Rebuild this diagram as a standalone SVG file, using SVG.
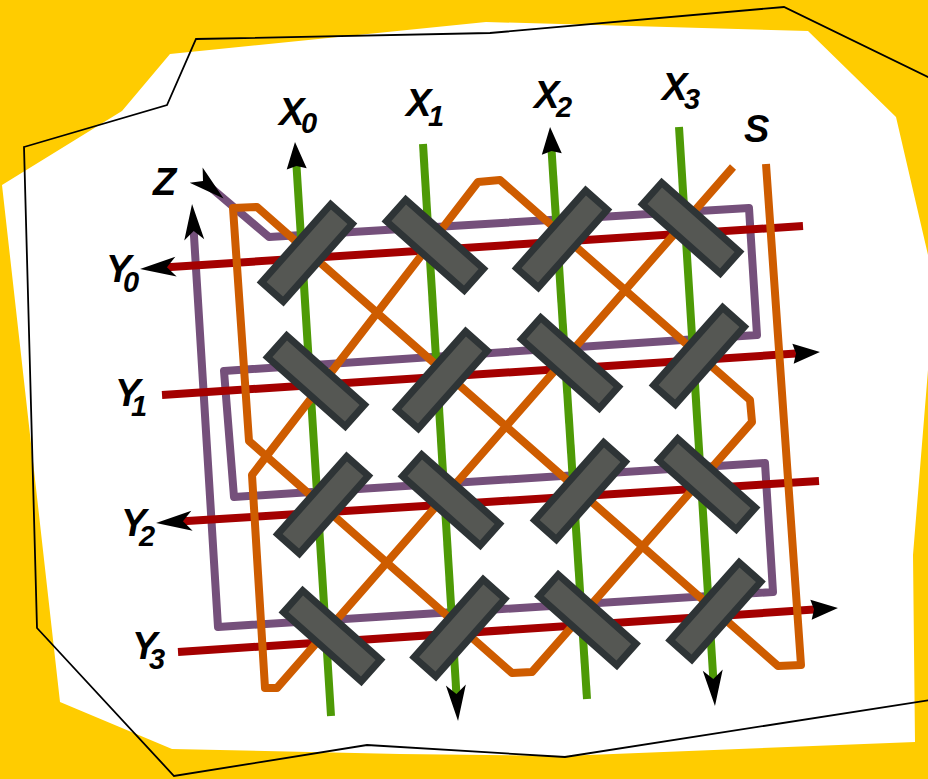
<svg xmlns="http://www.w3.org/2000/svg" width="928" height="779" viewBox="0 0 928 779">
<style>
.l{fill:none;stroke-width:8;stroke-linejoin:round}
.g{stroke:#4e9a06}.r{stroke:#a40000}.p{stroke:#75507b}.o{stroke:#ce5c00}
.b{fill:#555753;stroke:#2e3436;stroke-width:7;stroke-linejoin:miter}
text{font-family:"Liberation Sans",Arial,sans-serif;font-weight:bold;font-style:italic;fill:#000;font-size:38px}
.s{font-size:29px}
</style>
<defs>
<marker id="a" markerUnits="userSpaceOnUse" markerWidth="30" markerHeight="24" viewBox="0 -12 30 24" refX="3" refY="0" orient="auto" overflow="visible"><path d="M0,-10 L27,0 L0,10 L3,0 Z" fill="#000"/></marker>
<marker id="c" markerUnits="userSpaceOnUse" markerWidth="38" markerHeight="24" viewBox="0 -12 38 24" refX="9" refY="0" orient="auto" overflow="visible"><path d="M0,-10 L36,0 L0,10 L9,0 Z" fill="#000"/></marker>
<rect id="bx" x="-52" y="-14.5" width="104" height="29" class="b"/>
</defs>
<rect id="background" width="928" height="779" fill="#ffcc00"/>
<polygon id="sheet" fill="#fff" points="2,185 122,111 170,54 486,22 808,31 896,117 928,255 928,370 913,555 915,742 563,756 400,754 172,749 60,702"/>
<polygon id="outline" fill="none" stroke="#000" stroke-width="1.8" points="24,147 167,105 196,39 490,33 784,7 930,78 930,700 565,757 367,745 174,776 37,628"/>
<g id="connectors">
<path class="l p" marker-start="url(#c)" marker-end="url(#c)" d="M203,181 L269,237 L749,208 L757,335 L224,371 L234,497 L765,463 L773,592 L218,627 L193.7,231"/>
<path class="l r" marker-end="url(#c)" d="M803,226 L167,267.2"/>
<path class="l r" marker-end="url(#a)" d="M162,395 L796,353.6"/>
<path class="l r" marker-end="url(#c)" d="M819,481 L183,521.3"/>
<path class="l r" marker-end="url(#a)" d="M178,652 L814,609.6"/>
<path class="l g" marker-end="url(#a)" d="M331,716 L296.5,166"/>
<path class="l g" marker-end="url(#c)" d="M423,144 L456.4,694"/>
<path class="l g" marker-end="url(#a)" d="M587,699 L551.6,151"/>
<path class="l g" marker-end="url(#c)" d="M679,127 L713.3,679"/>
<path class="l o" d="M733,167 L277,688 L265,688 L252,475 L478,182 L500,180 L750,400 L752,422 L532,672 L512,673 L249,441 L233,208 L257,207 L778,666 L801,665 L766,164"/>
</g>
<g id="bs00"><use href="#bx" transform="translate(307,253) rotate(-48.4)"/></g>
<g id="bs01"><use href="#bx" transform="translate(435,245) rotate(41.6)"/></g>
<g id="bs02"><use href="#bx" transform="translate(562,239) rotate(-48.4)"/></g>
<g id="bs03"><use href="#bx" transform="translate(691,228) rotate(41.6)"/></g>
<g id="bs10"><use href="#bx" transform="translate(316,381) rotate(41.6)"/></g>
<g id="bs11"><use href="#bx" transform="translate(442,380) rotate(-48.4)"/></g>
<g id="bs12"><use href="#bx" transform="translate(570,363) rotate(41.6)"/></g>
<g id="bs13"><use href="#bx" transform="translate(699,356) rotate(-48.4)"/></g>
<g id="bs20"><use href="#bx" transform="translate(323,505) rotate(-48.4)"/></g>
<g id="bs21"><use href="#bx" transform="translate(451,500) rotate(41.6)"/></g>
<g id="bs22"><use href="#bx" transform="translate(580,491) rotate(-48.4)"/></g>
<g id="bs23"><use href="#bx" transform="translate(707,484) rotate(41.6)"/></g>
<g id="bs30"><use href="#bx" transform="translate(332,636) rotate(41.6)"/></g>
<g id="bs31"><use href="#bx" transform="translate(459.5,628) rotate(-48.4)"/></g>
<g id="bs32"><use href="#bx" transform="translate(587.5,620) rotate(41.6)"/></g>
<g id="bs33"><use href="#bx" transform="translate(715.5,611) rotate(-48.4)"/></g>
<g id="labels">
<text x="279" y="125">X<tspan class="s" x="301" y="133">0</tspan></text>
<text x="406" y="116">X<tspan class="s" x="428" y="126">1</tspan></text>
<text x="534" y="108">X<tspan class="s" x="556" y="117">2</tspan></text>
<text x="662" y="100">X<tspan class="s" x="684" y="109">3</tspan></text>
<text x="744" y="142">S</text>
<text x="153" y="195">Z</text>
<text x="106" y="282">Y<tspan class="s" x="123" y="292">0</tspan></text>
<text x="115" y="406">Y<tspan class="s" x="131" y="416">1</tspan></text>
<text x="121" y="536">Y<tspan class="s" x="139" y="546">2</tspan></text>
<text x="132" y="659">Y<tspan class="s" x="149" y="669">3</tspan></text>
</g>
</svg>
